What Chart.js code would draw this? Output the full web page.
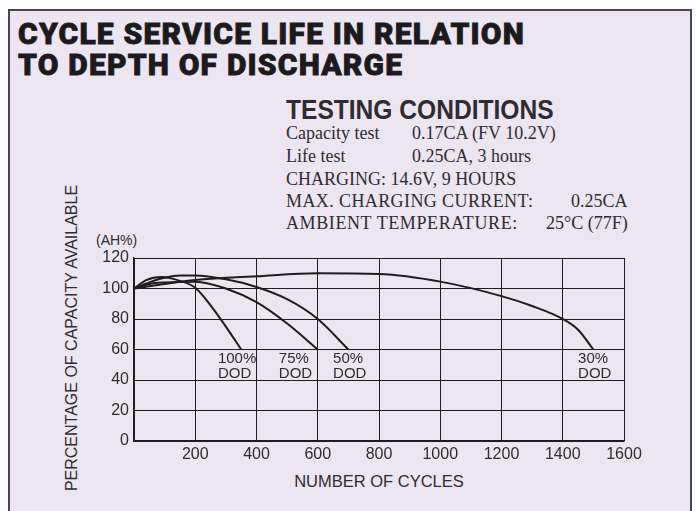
<!DOCTYPE html>
<html>
<head>
<meta charset="utf-8">
<script src="https://cdn.jsdelivr.net/npm/chart.js@4.4.1/dist/chart.umd.min.js"></script>
<style>
    html, body { margin: 0; padding: 0; background: #fbfafc; }
    body { width: 697px; height: 511px; position: relative; overflow: hidden; }
    .panel {
        position: absolute; left: 8px; top: 9px; width: 680px; height: 520px;
        background: #ece5f2; border: 2px solid #4a454c;
    }
    .title {
        position: absolute; left: 18px; top: 18px; margin: 0;
        font-family: Roboto, 'Liberation Sans', sans-serif; font-weight: 900;
        font-size: 30px; line-height: 31px; color: #1c1a1d; letter-spacing: 1.2px;
        -webkit-text-stroke: 0.8px #1c1a1d;
    }
    .cond-head {
        position: absolute; left: 286px; top: 95px; transform: scaleX(0.91); transform-origin: left top;
        font-family: 'Liberation Sans', sans-serif; font-weight: bold;
        font-size: 27px; color: #2f2c31; white-space: nowrap;
    }
    .cond {
        position: absolute; left: 286px; font-family: 'Liberation Serif', serif;
        font-size: 18px; color: #2f2c31; white-space: nowrap;
    }
    .cond span { position: absolute; }
    .ytitle {
        position: absolute; left: 72px; top: 338px;
        transform: translate(-50%, -50%) rotate(-90deg);
        font-family: 'Liberation Sans', sans-serif; font-size: 16px; color: #2f2c31; white-space: nowrap;
    }
    .unit {
        position: absolute; left: 96px; top: 232px;
        font-family: 'Liberation Sans', sans-serif; font-size: 14px; color: #2f2c31;
    }
    .xtitle {
        position: absolute; left: 379px; top: 481px; transform: translate(-50%, -50%);
        font-family: 'Liberation Sans', sans-serif; font-size: 16.5px; color: #2f2c31; white-space: nowrap;
    }
    #chart { position: absolute; left: 0; top: 0; }
</style>
</head>
<body>
<div class="panel"></div>
<div class="title">CYCLE SERVICE LIFE IN RELATION<br>TO DEPTH OF DISCHARGE</div>
<div class="cond-head">TESTING CONDITIONS</div>
<div class="cond" style="top:123px">Capacity test<span style="left:126px">0.17CA (FV 10.2V)</span></div>
<div class="cond" style="top:146px">Life test<span style="left:126px">0.25CA, 3 hours</span></div>
<div class="cond" style="top:169px">CHARGING: 14.6V, 9 HOURS</div>
<div class="cond" style="top:191px; letter-spacing:0.4px">MAX. CHARGING CURRENT:<span style="left:285px; letter-spacing:0">0.25CA</span></div>
<div class="cond" style="top:213px; letter-spacing:0.6px">AMBIENT TEMPERATURE:<span style="left:260px; letter-spacing:0">25°C (77F)</span></div>
<div class="ytitle">PERCENTAGE OF CAPACITY AVAILABLE</div>
<div class="unit">(AH%)</div>
<div class="xtitle">NUMBER OF CYCLES</div>
<canvas id="chart" width="697" height="511"></canvas>

<script>
// Values (cycles vs. capacity %)
const dod100Cycles = [0, 40, 90, 150, 200, 250, 300, 350];
const dod100Capacity = [100, 105.5, 107.5, 105, 100.5, 89, 75, 60];

const dod75Cycles = [0, 50, 100, 200, 300, 400, 500, 600];
const dod75Capacity = [100, 103, 104, 104.5, 100, 91, 77, 60];

const dod50Cycles = [0, 50, 100, 150, 200, 300, 400, 500, 600, 700];
const dod50Capacity = [100, 104, 107, 108.5, 108.5, 106, 101, 93, 80, 60];

const dod30Cycles = [0, 100, 200, 400, 600, 800, 1000, 1200, 1300, 1400, 1450, 1500];
const dod30Capacity = [100, 103, 105.5, 108, 110, 109.5, 104.5, 95, 88.5, 80, 73, 60];

const xTickLabels = ['', '200', '400', '600', '800', '1000', '1200', '1400', '1600'];
const yTickLabels = ['0', '20', '40', '60', '80', '100', '120'];

// curve labels: [text line 1, text line 2, cycles at left edge, capacity at top]
const curveLabels = [
    ['100%', 'DOD', 274, 58.5],
    ['75%', 'DOD', 473, 58.5],
    ['50%', 'DOD', 650, 58.5],
    ['30%', 'DOD', 1450, 58.5]
];

const CHART_LEFT = 134, CHART_RIGHT = 624, CHART_TOP = 258, CHART_BOTTOM = 441;
const ink = '#2f2c31';

function toPoints(xs, ys) {
    return xs.map((x, i) => ({ x: x, y: ys[i] }));
}

function curve(xs, ys) {
    return {
        data: toPoints(xs, ys),
        borderColor: '#1e1c1f',
        borderWidth: 2,
        pointRadius: 0,
        fill: false,
        cubicInterpolationMode: 'monotone'
    };
}

const labelPlugin = {
    id: 'curveLabels',
    afterDatasetsDraw(chart) {
        const ctx = chart.ctx;
        const xs = chart.scales.x, ys = chart.scales.y;
        ctx.save();
        ctx.fillStyle = ink;
        ctx.font = '15px "Liberation Sans", sans-serif';
        ctx.textAlign = 'left';
        ctx.textBaseline = 'top';
        curveLabels.forEach(l => {
            const px = xs.getPixelForValue(l[2]);
            const py = ys.getPixelForValue(l[3]);
            ctx.fillText(l[0], px, py);
            ctx.fillText(l[1], px, py + 15);
        });
        ctx.restore();
    }
};

new Chart(document.getElementById('chart'), {
    type: 'line',
    data: {
        datasets: [
            curve(dod100Cycles, dod100Capacity),
            curve(dod75Cycles, dod75Capacity),
            curve(dod50Cycles, dod50Capacity),
            curve(dod30Cycles, dod30Capacity)
        ]
    },
    options: {
        responsive: false,
        animation: false,
        layout: { padding: { left: 0, top: CHART_TOP, right: 697 - CHART_RIGHT, bottom: 0 } },
        plugins: { legend: { display: false }, tooltip: { enabled: false } },
        scales: {
            x: {
                type: 'linear', min: 0, max: 1600,
                afterFit: s => { s.height = 511 - CHART_BOTTOM; },
                ticks: {
                    stepSize: 200, padding: 4, color: ink,
                    font: { family: 'Liberation Sans', size: 16 },
                    maxRotation: 0,
                    callback: (v, i) => xTickLabels[i]
                },
                grid: { color: '#1e1c1f', lineWidth: 1, drawTicks: false },
                border: { color: '#1e1c1f', width: 1.5 }
            },
            y: {
                min: 0, max: 120,
                afterFit: s => { s.width = CHART_LEFT; },
                ticks: {
                    stepSize: 20, padding: 5, color: ink,
                    font: { family: 'Liberation Sans', size: 16 },
                    callback: (v, i) => yTickLabels[i]
                },
                grid: { color: '#1e1c1f', lineWidth: 1, drawTicks: false },
                border: { color: '#1e1c1f', width: 1.5 }
            }
        }
    },
    plugins: [labelPlugin]
});
</script>
</body>
</html>
